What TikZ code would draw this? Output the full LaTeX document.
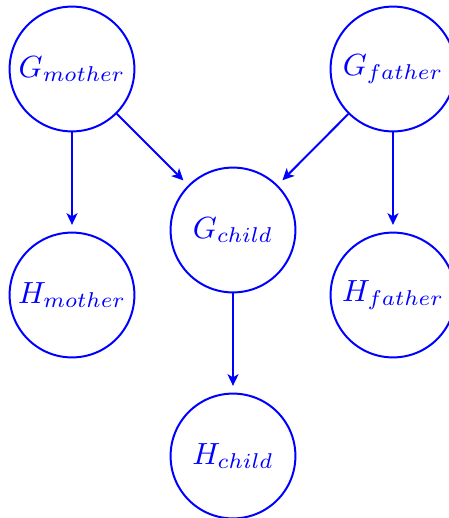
\documentclass[tikz,border=0pt]{standalone}
\usetikzlibrary{arrows.meta}
\tikzset{
  var/.style={circle, draw=blue, text=blue, line width=0.65pt,
              minimum size=40.8pt, inner sep=0pt},
  link/.style={draw=blue, line width=0.65pt, shorten >=2.2pt,
               -{Stealth[length=3.8pt, width=3.6pt, inset=1pt]}}
}
\begin{document}
\begin{tikzpicture}[x=0.3268pt, y=-0.3268pt]
  \useasboundingbox (0,0) rectangle (449,518);
  % genotype layer
  \node[var] (Gm) at (72,69)  {$G_{mother}$};
  \node[var] (Gf) at (393,69) {$G_{father}$};
  \node[var] (Gc) at (233,230) {$G_{child}$};
  % phenotype layer
  \node[var] (Hm) at (72,295)  {$H_{mother}$};
  \node[var] (Hf) at (393,295) {$H_{father}$};
  \node[var] (Hc) at (233,456) {$H_{child}$};
  % dependencies
  \draw[link] (Gm) -- (Gc);
  \draw[link] (Gf) -- (Gc);
  \draw[link] (Gm) -- (Hm);
  \draw[link] (Gf) -- (Hf);
  \draw[link] (Gc) -- (Hc);
\end{tikzpicture}
\end{document}
